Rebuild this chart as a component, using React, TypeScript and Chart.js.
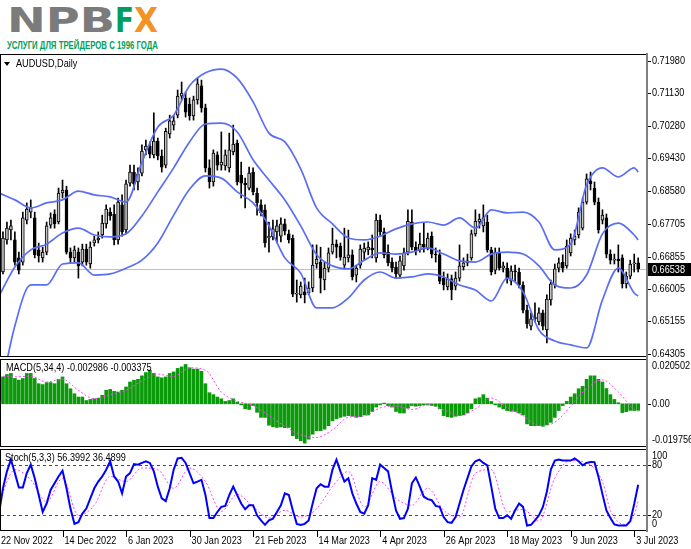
import React, { useEffect, useLayoutEffect, useRef } from 'react';
import { Chart, registerables } from 'chart.js';

Chart.register(...registerables);

// ---------------- data ----------------
const OPEN = [
  0.6603, 0.6645, 0.6729, 0.6755, 0.6729, 0.6682, 0.6671, 0.6781, 0.6802, 0.6787,
  0.6703, 0.6682, 0.6697, 0.6768, 0.6797, 0.6776, 0.6852, 0.6860, 0.6697, 0.6682,
  0.6697, 0.6671, 0.6705, 0.6666, 0.6721, 0.6729, 0.6742, 0.6771, 0.6802, 0.6797,
  0.6729, 0.6821, 0.6755, 0.6878, 0.6907, 0.6881, 0.6904, 0.6965, 0.6975, 0.6952,
  0.6988, 0.6949, 0.6925, 0.7007, 0.7030, 0.7056, 0.7106, 0.7101, 0.7085, 0.7054,
  0.7096, 0.7133, 0.7075, 0.6918, 0.6881, 0.6952, 0.6925, 0.6923, 0.6918, 0.6960,
  0.6983, 0.6899, 0.6878, 0.6865, 0.6907, 0.6852, 0.6821, 0.6808, 0.6734, 0.6737,
  0.6750, 0.6739, 0.6771, 0.6745, 0.6734, 0.6587, 0.6585, 0.6593, 0.6590, 0.6603,
  0.6666, 0.6671, 0.6624, 0.6655, 0.6697, 0.6718, 0.6713, 0.6663, 0.6682, 0.6690,
  0.6637, 0.6663, 0.6697, 0.6703, 0.6708, 0.6682, 0.6781, 0.6750, 0.6697, 0.6671,
  0.6658, 0.6637, 0.6661, 0.6697, 0.6776, 0.6710, 0.6703, 0.6718, 0.6708, 0.6739,
  0.6692, 0.6690, 0.6629, 0.6606, 0.6627, 0.6608, 0.6629, 0.6658, 0.6669, 0.6682,
  0.6745, 0.6776, 0.6766, 0.6776, 0.6703, 0.6650, 0.6697, 0.6655, 0.6655, 0.6621,
  0.6648, 0.6645, 0.6611, 0.6545, 0.6503, 0.6522, 0.6514, 0.6538, 0.6493, 0.6572,
  0.6611, 0.6655, 0.6671, 0.6661, 0.6695, 0.6729, 0.6742, 0.6760, 0.6828, 0.6884,
  0.6865, 0.6828, 0.6781, 0.6787, 0.6692, 0.6676, 0.6679, 0.6682, 0.6614, 0.6634,
  0.6666, 0.6669,
];
const HIGH = [
  0.6663, 0.6750, 0.6776, 0.6781, 0.6750, 0.6697, 0.6802, 0.6826, 0.6834, 0.6802,
  0.6721, 0.6710, 0.6776, 0.6800, 0.6808, 0.6865, 0.6886, 0.6870, 0.6708, 0.6713,
  0.6708, 0.6718, 0.6718, 0.6724, 0.6739, 0.6750, 0.6794, 0.6821, 0.6813, 0.6821,
  0.6839, 0.6847, 0.6886, 0.6925, 0.6925, 0.6918, 0.6978, 0.6991, 0.6986, 0.7062,
  0.6996, 0.6965, 0.7022, 0.7056, 0.7054, 0.7122, 0.7143, 0.7117, 0.7101, 0.7106,
  0.7153, 0.7148, 0.7085, 0.6939, 0.6965, 0.6960, 0.7012, 0.6965, 0.7009, 0.7030,
  0.6991, 0.6933, 0.6891, 0.6920, 0.6918, 0.6865, 0.6834, 0.6821, 0.6776, 0.6781,
  0.6781, 0.6787, 0.6784, 0.6755, 0.6742, 0.6624, 0.6619, 0.6629, 0.6619, 0.6716,
  0.6716, 0.6710, 0.6671, 0.6708, 0.6760, 0.6729, 0.6721, 0.6760, 0.6755, 0.6703,
  0.6663, 0.6716, 0.6721, 0.6724, 0.6742, 0.6797, 0.6794, 0.6760, 0.6716, 0.6682,
  0.6671, 0.6687, 0.6708, 0.6808, 0.6808, 0.6724, 0.6747, 0.6773, 0.6747, 0.6750,
  0.6708, 0.6703, 0.6645, 0.6640, 0.6637, 0.6645, 0.6716, 0.6682, 0.6692, 0.6755,
  0.6808, 0.6797, 0.6821, 0.6794, 0.6710, 0.6708, 0.6708, 0.6671, 0.6669, 0.6661,
  0.6663, 0.6655, 0.6619, 0.6558, 0.6538, 0.6564, 0.6551, 0.6545, 0.6585, 0.6624,
  0.6666, 0.6682, 0.6690, 0.6729, 0.6745, 0.6755, 0.6813, 0.6839, 0.6902, 0.6907,
  0.6881, 0.6839, 0.6808, 0.6797, 0.6703, 0.6692, 0.6716, 0.6690, 0.6645, 0.6676,
  0.6692, 0.6682,
];
const LOW = [
  0.6598, 0.6640, 0.6718, 0.6729, 0.6663, 0.6640, 0.6663, 0.6771, 0.6787, 0.6682,
  0.6671, 0.6671, 0.6690, 0.6760, 0.6760, 0.6771, 0.6839, 0.6692, 0.6669, 0.6671,
  0.6629, 0.6661, 0.6663, 0.6655, 0.6713, 0.6721, 0.6734, 0.6760, 0.6781, 0.6716,
  0.6718, 0.6739, 0.6745, 0.6870, 0.6860, 0.6860, 0.6897, 0.6952, 0.6944, 0.6944,
  0.6939, 0.6907, 0.6918, 0.6996, 0.7017, 0.7049, 0.7096, 0.7051, 0.7043, 0.7043,
  0.7085, 0.7064, 0.6907, 0.6865, 0.6870, 0.6912, 0.6912, 0.6912, 0.6907, 0.6952,
  0.6873, 0.6839, 0.6813, 0.6860, 0.6847, 0.6794, 0.6792, 0.6710, 0.6697, 0.6729,
  0.6721, 0.6724, 0.6742, 0.6721, 0.6580, 0.6566, 0.6577, 0.6564, 0.6585, 0.6593,
  0.6655, 0.6590, 0.6598, 0.6645, 0.6692, 0.6682, 0.6676, 0.6655, 0.6671, 0.6624,
  0.6619, 0.6655, 0.6676, 0.6690, 0.6682, 0.6671, 0.6739, 0.6682, 0.6661, 0.6645,
  0.6629, 0.6629, 0.6650, 0.6690, 0.6703, 0.6690, 0.6697, 0.6697, 0.6703, 0.6682,
  0.6671, 0.6614, 0.6598, 0.6598, 0.6572, 0.6598, 0.6621, 0.6650, 0.6661, 0.6676,
  0.6739, 0.6760, 0.6750, 0.6697, 0.6637, 0.6640, 0.6650, 0.6645, 0.6616, 0.6611,
  0.6619, 0.6603, 0.6538, 0.6498, 0.6493, 0.6514, 0.6506, 0.6493, 0.6459, 0.6558,
  0.6603, 0.6645, 0.6645, 0.6655, 0.6687, 0.6716, 0.6734, 0.6755, 0.6823, 0.6860,
  0.6821, 0.6747, 0.6771, 0.6682, 0.6666, 0.6666, 0.6645, 0.6603, 0.6603, 0.6627,
  0.6645, 0.6645,
];
const CLOSE = [
  0.6650, 0.6734, 0.6760, 0.6766, 0.6671, 0.6650, 0.6787, 0.6810, 0.6813, 0.6690,
  0.6687, 0.6697, 0.6766, 0.6787, 0.6771, 0.6852, 0.6860, 0.6697, 0.6682, 0.6703,
  0.6661, 0.6705, 0.6671, 0.6710, 0.6729, 0.6734, 0.6773, 0.6810, 0.6792, 0.6729,
  0.6828, 0.6750, 0.6876, 0.6907, 0.6876, 0.6902, 0.6962, 0.6975, 0.6954, 0.6988,
  0.6949, 0.6920, 0.7014, 0.7041, 0.7041, 0.7106, 0.7114, 0.7064, 0.7054, 0.7096,
  0.7138, 0.7075, 0.6918, 0.6881, 0.6957, 0.6925, 0.6933, 0.6952, 0.6965, 0.6980,
  0.6881, 0.6878, 0.6873, 0.6904, 0.6855, 0.6826, 0.6800, 0.6721, 0.6739, 0.6758,
  0.6766, 0.6771, 0.6752, 0.6729, 0.6587, 0.6590, 0.6608, 0.6585, 0.6603, 0.6663,
  0.6679, 0.6629, 0.6655, 0.6695, 0.6718, 0.6710, 0.6684, 0.6684, 0.6690, 0.6632,
  0.6655, 0.6705, 0.6708, 0.6710, 0.6703, 0.6781, 0.6750, 0.6690, 0.6669, 0.6655,
  0.6640, 0.6674, 0.6695, 0.6778, 0.6710, 0.6700, 0.6718, 0.6710, 0.6734, 0.6692,
  0.6690, 0.6621, 0.6611, 0.6627, 0.6598, 0.6629, 0.6661, 0.6669, 0.6674, 0.6745,
  0.6778, 0.6784, 0.6787, 0.6703, 0.6645, 0.6697, 0.6655, 0.6661, 0.6627, 0.6648,
  0.6645, 0.6611, 0.6545, 0.6509, 0.6522, 0.6527, 0.6538, 0.6503, 0.6574, 0.6614,
  0.6653, 0.6669, 0.6655, 0.6713, 0.6734, 0.6739, 0.6802, 0.6828, 0.6889, 0.6876,
  0.6828, 0.6755, 0.6794, 0.6692, 0.6676, 0.6679, 0.6674, 0.6614, 0.6634, 0.6666,
  0.6669, 0.66538,
];

// Bollinger bands, read every 4th bar
const BAND_IDX = [
  0, 4, 8, 12, 16, 20, 24, 28, 32, 36, 40, 44, 48, 52, 56, 60, 64, 68, 72, 76, 80,
  84, 88, 92, 96, 100, 104, 108, 112, 116, 120, 124, 128, 132, 136, 140, 144, 148, 152, 156, 160, 161,
];
const BAND_UPPER = [
  0.6852, 0.6834, 0.6813, 0.6826, 0.6834, 0.6857, 0.6847, 0.6842, 0.6828, 0.6933, 0.7025,
  0.7056, 0.7133, 0.7167, 0.7177, 0.7153, 0.7091, 0.7009, 0.6986, 0.6915, 0.6813,
  0.6771, 0.6734, 0.6729, 0.6739, 0.6758, 0.6771, 0.6776, 0.6768, 0.6787, 0.6760,
  0.6808, 0.6800, 0.6802, 0.6776, 0.6703, 0.6718, 0.6873, 0.6918, 0.6894, 0.6918, 0.6907,
];
const BAND_MID = [
  0.6582, 0.6658, 0.6703, 0.6718, 0.6747, 0.6760, 0.6742, 0.6737, 0.6745, 0.6792, 0.6855,
  0.6918, 0.6986, 0.7033, 0.7035, 0.7012, 0.6939, 0.6886, 0.6834, 0.6766, 0.6690,
  0.6661, 0.6653, 0.6676, 0.6695, 0.6692, 0.6697, 0.6708, 0.6692, 0.6674, 0.6671,
  0.6692, 0.6697, 0.6692, 0.6661, 0.6611, 0.6603, 0.6637, 0.6745, 0.6773, 0.6742, 0.6729,
];
const BAND_LOWER = [
  0.6310, 0.6504, 0.6611, 0.6611, 0.6666, 0.6669, 0.6637, 0.6640, 0.6655, 0.6676, 0.6721,
  0.6794, 0.6862, 0.6897, 0.6891, 0.6855, 0.6826, 0.6766, 0.6682, 0.6642, 0.6551,
  0.6551, 0.6577, 0.6624, 0.6645, 0.6629, 0.6632, 0.6640, 0.6632, 0.6611, 0.6598,
  0.6569, 0.6629, 0.6593, 0.6493, 0.6464, 0.6454, 0.6446, 0.6572, 0.6655, 0.6590, 0.6582,
];

// MACD(5,34,4) histogram, one per bar
const MACD_HIST = [
  0.0108, 0.0123, 0.0134, 0.0139, 0.0116, 0.0108, 0.0116, 0.0139, 0.0139, 0.0116,
  0.0092, 0.0088, 0.0097, 0.0097, 0.0092, 0.0112, 0.0123, 0.0092, 0.0069, 0.0046,
  0.0031, 0.0031, 0.0015, 0.0020, 0.0023, 0.0026, 0.0039, 0.0062, 0.0066, 0.0057,
  0.0054, 0.0062, 0.0077, 0.0100, 0.0108, 0.0112, 0.0128, 0.0143, 0.0154, 0.0139,
  0.0123, 0.0119, 0.0123, 0.0139, 0.0146, 0.0162, 0.0169, 0.0180, 0.0165, 0.0159,
  0.0159, 0.0149, 0.0092, 0.0051, 0.0042, 0.0031, 0.0023, 0.0011, 0.0015, 0.0023,
  0.0008, -0.0005, -0.0023, -0.0026, -0.0008, -0.0039, -0.0062, -0.0062, -0.0098, -0.0105,
  -0.0108, -0.0106, -0.0109, -0.0108, -0.0146, -0.0159, -0.0169, -0.0180, -0.0162, -0.0139,
  -0.0123, -0.0123, -0.0116, -0.0100, -0.0077, -0.0069, -0.0062, -0.0057, -0.0054, -0.0057,
  -0.0062, -0.0059, -0.0051, -0.0051, -0.0035, -0.0015, -0.0005, 0.0003, -0.0008, -0.0015,
  -0.0035, -0.0042, -0.0042, -0.0020, -0.0008, -0.0011, -0.0008, -0.0005, -0.0005, -0.0008,
  -0.0011, -0.0023, -0.0054, -0.0059, -0.0062, -0.0057, -0.0054, -0.0051, -0.0042, -0.0023,
  0.0023, 0.0028, 0.0042, 0.0026, 0.0011, -0.0005, -0.0015, -0.0023, -0.0031, -0.0034,
  -0.0035, -0.0042, -0.0051, -0.0092, -0.0100, -0.0100, -0.0100, -0.0103, -0.0096, -0.0085,
  -0.0062, -0.0031, -0.0008, 0.0011, 0.0031, 0.0046, 0.0069, 0.0080, 0.0112, 0.0128,
  0.0128, 0.0112, 0.0100, 0.0070, 0.0042, 0.0020, 0.0005, -0.0040, -0.0036, -0.0030,
  -0.0031, -0.002986,
];
const MACD_SIGNAL_IDX = BAND_IDX;
const MACD_SIGNAL = [
  0.01278, 0.01232, 0.01263, 0.01001, 0.01124, 0.00616, 0.00231, 0.00416, 0.00616, 0.01047,
  0.01355, 0.01247, 0.01648, 0.0154, 0.00539, 0.00123, -0.00077, -0.00539, -0.01032, -0.01417,
  -0.0154, -0.01186, -0.00616, -0.00554, -0.00185, -0.00108, -0.00262, -0.00046, -0.00277, -0.00539,
  -0.00231, 0.00262, -0.00169, -0.00539, -0.01001, -0.00847, -0.00108, 0.00693, 0.01093, 0.00539,
  -0.00262, -0.003375,
];

// Stochastic(5,3,3)
const STOCH_MAIN = [
  21.2, 52.1, 72.7, 87.1, 70.6, 52.9, 52.9, 70.6, 80.9, 64.4,
  43.8, 23.2, 33.5, 50.0, 58.2, 66.5, 73.5, 52.1, 27.3, 8.7,
  10.8, 21.2, 27.3, 39.7, 52.1, 60.3, 66.5, 74.8, 85.1, 66.5,
  60.3, 45.9, 66.5, 70.6, 81.7, 80.9, 83.0, 85.1, 83.0, 72.7,
  54.1, 39.7, 36.4, 52.1, 74.8, 88.4, 89.2, 83.0, 70.6, 58.2,
  60.3, 62.4, 43.8, 15.8, 15.8, 23.2, 29.4, 30.6, 43.8, 54.1,
  43.8, 33.5, 26.5, 31.4, 31.4, 19.1, 12.9, 7.5, 12.9, 14.9,
  23.2, 31.4, 45.9, 43.8, 25.2, 8.7, 7.5, 8.7, 12.9, 33.5,
  52.1, 57.0, 54.1, 54.1, 74.8, 87.1, 72.7, 60.3, 64.4, 45.9,
  33.5, 23.2, 21.2, 31.4, 64.4, 62.4, 80.9, 76.8, 72.7, 47.9,
  25.2, 14.9, 15.8, 27.3, 58.2, 65.3, 54.1, 41.8, 38.9, 37.6,
  30.6, 29.4, 17.0, 10.8, 10.0, 17.0, 33.5, 50.0, 64.4, 78.9,
  85.1, 87.1, 83.0, 80.1, 54.1, 27.3, 15.8, 15.8, 19.1, 14.9,
  25.2, 33.5, 29.4, 6.7, 7.5, 12.9, 19.1, 29.4, 47.9, 74.8,
  85.9, 87.1, 85.9, 85.9, 85.9, 88.4, 85.1, 80.1, 83.0, 84.2,
  84.0, 66.0, 45.0, 25.0, 16.0, 8.0, 6.7, 6.7, 6.7, 12.0,
  33.0, 56.3992,
];
const STOCH_SIGNAL_IDX = [
  0, 4, 8, 12, 16, 20, 24, 28, 32, 36, 40, 44, 48, 52, 56, 60, 64, 68, 72, 76, 80, 84,
  88, 92, 96, 100, 104, 108, 112, 116, 120, 124, 128, 132, 136, 140, 144, 148, 152, 154, 156, 158, 160, 161,
];
const STOCH_SIGNAL = [
  35.5, 74.8, 62.4, 35.5, 64.4, 19.1, 31.4, 66.5, 60.3, 76.8, 74.8, 52.1, 76.8, 60.3, 24.0,
  44.7, 29.4, 15.8, 25.2, 17.0, 27.0, 54.1, 72.7, 29.4, 60.3, 39.7, 31.4, 52.1, 25.2, 17.0,
  70.6, 74.8, 23.2, 26.5, 12.1, 64.4, 85.9, 83.0, 60.0, 25.0, 11.0, 8.0, 20.0, 36.4899,
];
const STOCH_LEVELS = [80, 20];

// axis ticks and texts
const PRICE_TICKS = [0.7198, 0.7113, 0.7028, 0.6943, 0.6858, 0.67705, 0.66855, 0.66005, 0.65155, 0.64305];
const MACD_TICKS = [0.020502, 0, -0.019756];
const MACD_TICK_LABELS = ['0.020502', '0.00', '-0.019756'];
const STOCH_TICKS = [100, 80, 20, 0];
const DATE_TICK_IDX = [0, 16, 32, 48, 64, 80, 96, 112, 128, 144, 160];
const DATE_TICK_LABELS = [
  '22 Nov 2022', '14 Dec 2022', '6 Jan 2023', '30 Jan 2023', '21 Feb 2023', '14 Mar 2023',
  '4 Apr 2023', '26 Apr 2023', '18 May 2023', '9 Jun 2023', '3 Jul 2023',
];
const LAST_PRICE = 0.66538;
const SYMBOL_TITLE = 'AUDUSD,Daily';
const MACD_TITLE = 'MACD(5,34,4) -0.002986 -0.003375';
const STOCH_TITLE = 'Stoch(5,3,3) 56.3992 36.4899';
const LOGO_GRAY = 'NPB';
const LOGO_F = 'F';
const LOGO_X = 'X';
const LOGO_SUB = 'УСЛУГИ ДЛЯ ТРЕЙДЕРОВ С 1996 ГОДА';

// ---------------- scale ranges ----------------
const X_MIN = 0.252;
const X_MAX = 162.97;
const PRICE_MIN = 0.64222;
const PRICE_MAX = 0.72164;
const MACD_MAX = 0.020502;
const MACD_MIN = -0.019756;

const W = 691;
const AXIS_W = 45;
const FONT = '"Liberation Sans", Arial, sans-serif';
const BAND_COLOR = '#5a6ef5';

type Kind = 'main' | 'macd' | 'stoch';

function drawText(ctx: CanvasRenderingContext2D, s: string, x: number, y: number, color = '#000', size = 11, sx = 0.83) {
  ctx.save();
  ctx.font = `${size}px ${FONT}`;
  ctx.fillStyle = color;
  ctx.textBaseline = 'middle';
  ctx.textAlign = 'left';
  ctx.translate(x, y);
  ctx.scale(sx, 1);
  ctx.fillText(s, 0, 0);
  ctx.restore();
}

function panePlugin(kind: Kind) {
  return {
    id: 'pane_' + kind,
    beforeDatasetsDraw(chart: any) {
      const { ctx, chartArea: ca, scales } = chart;
      const y = scales.y;
      ctx.save();
      if (kind === 'main') {
        const py = Math.round(y.getPixelForValue(LAST_PRICE));
        ctx.fillStyle = '#c0c0c0';
        ctx.fillRect(ca.left, py, ca.right - ca.left, 1);
      }
      if (kind === 'stoch') {
        ctx.fillStyle = '#ff0000';
        for (const lv of STOCH_LEVELS) {
          const py = Math.round(y.getPixelForValue(lv));
          for (let px = ca.left + 1; px < ca.right; px += 6) {
            ctx.fillRect(px, py, Math.min(3, ca.right - px), 1);
          }
        }
      }
      ctx.restore();
    },
    afterDraw(chart: any) {
      const { ctx, chartArea: ca, scales } = chart;
      const y = scales.y;
      const x = scales.x;
      ctx.save();
      // frame
      ctx.fillStyle = '#000';
      ctx.fillRect(0, ca.top, ca.right, 1);
      ctx.fillRect(0, ca.bottom - 1, ca.right, 1);
      ctx.fillRect(0, ca.top, 1, ca.bottom - ca.top);
      // price axis line
      ctx.fillStyle = '#808080';
      ctx.fillRect(ca.right, ca.top - 1, 2, ca.bottom - ca.top + 2);

      let ticks: [number, string][] = [];
      if (kind === 'main') ticks = PRICE_TICKS.map((v) => [v, v.toFixed(5)]);
      if (kind === 'macd') ticks = MACD_TICKS.map((v, i) => [v, MACD_TICK_LABELS[i]]);
      if (kind === 'stoch') ticks = STOCH_TICKS.map((v) => [v, String(v)]);
      for (const [v, lab] of ticks) {
        const py = y.getPixelForValue(v);
        const cy = kind === 'main' ? py : Math.min(Math.max(py, ca.top + 7), ca.bottom - 7);
        if (Math.abs(cy - py) < 0.5) {
          ctx.fillStyle = '#000';
          ctx.fillRect(ca.right + 2, Math.round(py), 3, 1);
        }
        drawText(ctx, lab, ca.right + 6, cy);
      }

      if (kind === 'main') {
        const py = y.getPixelForValue(LAST_PRICE);
        ctx.fillStyle = '#000';
        ctx.fillRect(ca.right + 2, Math.round(py) - 6, W - ca.right - 2, 13);
        drawText(ctx, LAST_PRICE.toFixed(5), ca.right + 6, Math.round(py) + 0.5, '#fff');
        // title with small triangle
        const ty = ca.top + 10;
        ctx.fillStyle = '#000';
        ctx.beginPath();
        ctx.moveTo(4, ty - 2);
        ctx.lineTo(10, ty - 2);
        ctx.lineTo(7, ty + 2);
        ctx.closePath();
        ctx.fill();
        drawText(ctx, SYMBOL_TITLE, 16, ty);
      }
      if (kind === 'macd') drawText(ctx, MACD_TITLE, 6, ca.top + 9);
      if (kind === 'stoch') {
        drawText(ctx, STOCH_TITLE, 5, ca.top + 9);
        DATE_TICK_IDX.forEach((idx, k) => {
          const px = x.getPixelForValue(idx);
          ctx.fillStyle = '#000';
          ctx.fillRect(Math.round(px), ca.bottom, 1, 6);
          drawText(ctx, DATE_TICK_LABELS[k], px + 2, ca.bottom + 9.5);
        });
      }
      ctx.restore();
    },
  };
}

function buildChart(canvas: HTMLCanvasElement, kind: Kind) {
  const datasets: any[] = [];
  let yMin = 0;
  let yMax = 100;
  let padding: any = { top: 1, bottom: 1, left: 0, right: 0 };
  const line = (idx: number[], vals: number[], color: string, width: number, dash: number[] = [], smooth = true) => ({
    type: 'line',
    data: idx.map((xv, k) => ({ x: xv, y: vals[k] })),
    borderColor: color,
    borderWidth: width,
    borderDash: dash,
    pointRadius: 0,
    fill: false,
    cubicInterpolationMode: smooth ? 'monotone' : 'default',
    tension: smooth ? 0.4 : 0,
    order: 0,
  });
  if (kind === 'main') {
    yMin = PRICE_MIN;
    yMax = PRICE_MAX;
    padding = { top: 4, bottom: 1, left: 0, right: 0 };
    datasets.push(line(BAND_IDX, BAND_UPPER, BAND_COLOR, 1.7));
    datasets.push(line(BAND_IDX, BAND_MID, BAND_COLOR, 1.7));
    datasets.push(line(BAND_IDX, BAND_LOWER, BAND_COLOR, 1.7));
    datasets.push({
      type: 'bar',
      data: CLOSE.map((c, i) => ({ x: i, y: [OPEN[i], c] })),
      backgroundColor: (c: any) => (CLOSE[c.dataIndex] >= OPEN[c.dataIndex] ? '#c4c4c4' : '#000000'),
      borderColor: '#000',
      borderWidth: 1,
      borderSkipped: false,
      barThickness: 3,
      grouped: false,
      order: 1,
    });
    datasets.push({
      type: 'bar',
      data: HIGH.map((h, i) => ({ x: i, y: [LOW[i], h] })),
      backgroundColor: '#000',
      borderWidth: 0,
      barThickness: 1,
      grouped: false,
      order: 2,
    });
  } else if (kind === 'macd') {
    yMin = MACD_MIN;
    yMax = MACD_MAX;
    datasets.push(line(MACD_SIGNAL_IDX, MACD_SIGNAL, '#ff44ff', 1, [2, 2]));
    datasets.push({
      type: 'bar',
      data: MACD_HIST.map((v, i) => ({ x: i, y: v })),
      backgroundColor: '#0a9a0a',
      borderWidth: 0,
      barThickness: 3,
      grouped: false,
      order: 1,
    });
  } else {
    padding = { top: 1, bottom: 18, left: 0, right: 0 };
    datasets.push(line(STOCH_MAIN.map((_, i) => i), STOCH_MAIN, '#0000ff', 2, [], false));
    datasets.push({ ...line(STOCH_SIGNAL_IDX, STOCH_SIGNAL, '#ff44ff', 1, [2, 2]), order: 1 });
  }

  return new Chart(canvas, {
    type: 'bar',
    data: { datasets },
    options: {
      responsive: false,
      maintainAspectRatio: false,
      animation: false,
      events: [],
      layout: { padding },
      plugins: { legend: { display: false }, tooltip: { enabled: false } },
      scales: {
        x: {
          type: 'linear',
          min: X_MIN,
          max: X_MAX,
          display: false,
          offset: false,
          grid: { offset: false },
        },
        y: {
          type: 'linear',
          position: 'right',
          min: yMin,
          max: yMax,
          display: true,
          ticks: { display: false },
          grid: { display: false },
          border: { display: false },
          afterFit: (s: any) => {
            s.width = AXIS_W;
          },
        },
      },
    } as any,
    plugins: [panePlugin(kind) as any],
  });
}

function FitText(props: { text: string; left: number; top: number; width: number; style: React.CSSProperties }) {
  const ref = useRef<HTMLSpanElement>(null);
  useLayoutEffect(() => {
    const el = ref.current;
    if (!el) return;
    el.style.transform = 'none';
    const w = el.getBoundingClientRect().width;
    if (w > 0) el.style.transform = `scaleX(${props.width / w})`;
  }, [props.text, props.width]);
  return (
    <span
      ref={ref}
      style={{
        position: 'absolute',
        left: props.left,
        top: props.top,
        whiteSpace: 'nowrap',
        transformOrigin: '0 0',
        lineHeight: 1,
        ...props.style,
      }}
    >
      {props.text}
    </span>
  );
}

export default function App() {
  const mainRef = useRef<HTMLCanvasElement>(null);
  const macdRef = useRef<HTMLCanvasElement>(null);
  const stochRef = useRef<HTMLCanvasElement>(null);

  useEffect(() => {
    const charts = [
      buildChart(mainRef.current!, 'main'),
      buildChart(macdRef.current!, 'macd'),
      buildChart(stochRef.current!, 'stoch'),
    ];
    return () => charts.forEach((c) => c.destroy());
  }, []);

  const logoFont: React.CSSProperties = { fontFamily: '"DejaVu Sans", sans-serif', fontWeight: 700, fontSize: 33 };
  return (
    <div style={{ position: 'fixed', left: 0, top: 0, width: W, height: 549, background: '#fff', overflow: 'hidden' }}>
      <FitText text={LOGO_GRAY} left={7} top={4.4} width={108} style={{ ...logoFont, color: '#7b7b7b' }} />
      <FitText text={LOGO_F} left={115} top={4.4} width={19} style={{ ...logoFont, color: '#009e5e' }} />
      <FitText text={LOGO_X} left={134} top={4.4} width={24} style={{ ...logoFont, color: '#f39325' }} />
      <FitText
        text={LOGO_SUB}
        left={7}
        top={40.3}
        width={151}
        style={{ fontFamily: FONT, fontWeight: 700, fontSize: 11.5, color: '#00a05a' }}
      />
      <canvas ref={mainRef} width={W} height={308} style={{ position: 'absolute', left: 0, top: 50, display: 'block' }} />
      <canvas ref={macdRef} width={W} height={90} style={{ position: 'absolute', left: 0, top: 358, display: 'block' }} />
      <canvas ref={stochRef} width={W} height={101} style={{ position: 'absolute', left: 0, top: 448, display: 'block' }} />
    </div>
  );
}
